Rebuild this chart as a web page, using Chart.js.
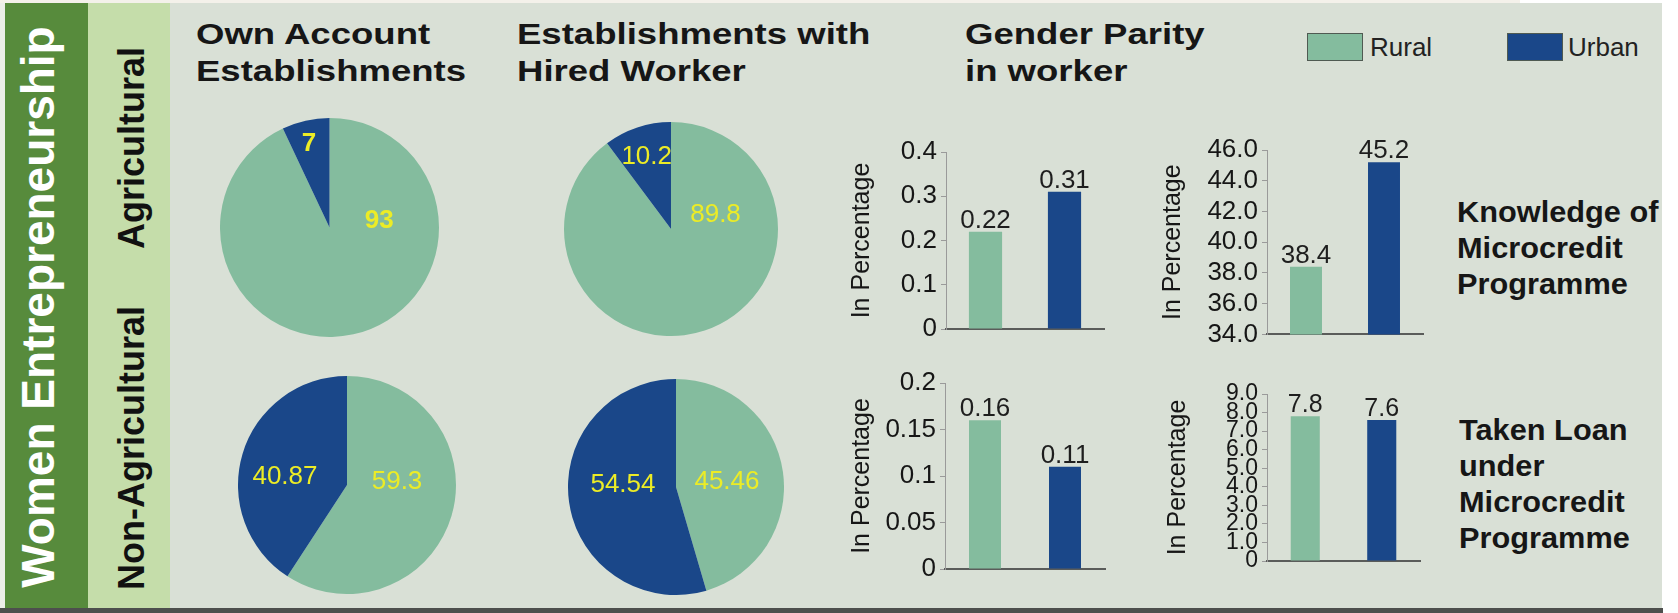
<!DOCTYPE html>
<html>
<head>
<meta charset="utf-8">
<title>Women Entrepreneurship</title>
<script src="https://cdn.jsdelivr.net/npm/chart.js@4.4.1/dist/chart.umd.min.js"></script>
<style>
  html, body { margin: 0; padding: 0; background: #fff; }
  body { width: 1678px; height: 613px; position: relative; overflow: hidden; font-family: 'Liberation Sans', Arial, sans-serif; }
  #panel { position: absolute; left: 0; top: 0; width: 1662px; height: 608px; background: #d9e0d6; overflow: hidden; }
  #bottomLine { position: absolute; left: 0; top: 608px; width: 1663px; height: 5px; background: #4d4f4d; }
  .strip { position: absolute; }
  .holder { position: absolute; }
  .title { position: absolute; font-weight: bold; font-size: 29px; line-height: 37px; color: #161616; white-space: nowrap; transform-origin: 0 0; transform: scaleX(1.26); }
  .side { position: absolute; font-weight: bold; font-size: 29px; line-height: 36px; color: #161616; white-space: nowrap; transform-origin: 0 0; transform: scaleX(1.06); }
  .vert { position: absolute; font-weight: bold; white-space: nowrap; line-height: 1; transform: translate(-50%, -50%) rotate(-90deg); }
  .swatch { position: absolute; width: 54px; height: 26px; border: 1px solid #4f5a52; }
  .legtext { position: absolute; font-size: 26px; line-height: 28px; color: #222; }
</style>
</head>
<body>
<div id="panel">
  <div class="strip" style="left:0;top:0;width:5px;height:608px;background:#eceee9"></div>
  <div class="strip" style="left:0;top:0;width:1520px;height:3px;background:#f4f1ea"></div>
  <div class="strip" style="left:1520px;top:0;width:142px;height:3px;background:#fff"></div>
  <div class="strip" style="left:5px;top:3px;width:83px;height:605px;background:#578b3c"></div>
  <div class="strip" style="left:88px;top:3px;width:82px;height:605px;background:#c5ddaa"></div>

  <div class="vert" style="left:38px;top:307px;font-size:46px;color:#fff">Women Entrepreneurship</div>
  <div class="vert" style="left:132px;top:148px;font-size:36px;color:#111">Agricultural</div>
  <div class="vert" style="left:132px;top:448px;font-size:36px;color:#111">Non-Agricultural</div>

  <div class="title" style="left:196px;top:16px">Own Account<br>Establishments</div>
  <div class="title" style="left:517px;top:16px">Establishments with<br>Hired Worker</div>
  <div class="title" style="left:965px;top:16px">Gender Parity<br>in worker</div>

  <div class="swatch" style="left:1307px;top:33px;background:#84bc9e"></div>
  <div class="legtext" style="left:1370px;top:33px">Rural</div>
  <div class="swatch" style="left:1507px;top:33px;background:#1a4789"></div>
  <div class="legtext" style="left:1568px;top:33px">Urban</div>

  <div class="side" style="left:1457px;top:194px">Knowledge of<br>Microcredit<br>Programme</div>
  <div class="side" style="left:1459px;top:412px">Taken Loan<br>under<br>Microcredit<br>Programme</div>

  <div class="holder"><canvas id="pieOwnAgri"></canvas></div>
  <div class="holder"><canvas id="pieHiredAgri"></canvas></div>
  <div class="holder"><canvas id="pieOwnNonAgri"></canvas></div>
  <div class="holder"><canvas id="pieHiredNonAgri"></canvas></div>
  <div class="holder"><canvas id="barParityAgri"></canvas></div>
  <div class="holder"><canvas id="barKnowledge"></canvas></div>
  <div class="holder"><canvas id="barParityNonAgri"></canvas></div>
  <div class="holder"><canvas id="barLoan"></canvas></div>
</div>
<div id="bottomLine"></div>

<script>
// data
const seriesNames = ['Rural', 'Urban'];

const ownAccountAgri = [93, 7];
const hiredWorkerAgri = [89.8, 10.2];
const ownAccountNonAgri = [59.3, 40.87];
const hiredWorkerNonAgri = [45.46, 54.54];

const genderParityAgri = [0.22, 0.31];
const genderParityNonAgri = [0.16, 0.11];
const knowledgeMicrocredit = [38.4, 45.2];
const loanMicrocredit = [7.8, 7.6];

const ticksParityAgri = ['0', '0.1', '0.2', '0.3', '0.4'];
const ticksParityNonAgri = ['0', '0.05', '0.1', '0.15', '0.2'];
const ticksKnowledge = ['34.0', '36.0', '38.0', '40.0', '42.0', '44.0', '46.0'];
const ticksLoan = ['0', '1.0', '2.0', '3.0', '4.0', '5.0', '6.0', '7.0', '8.0', '9.0'];

const seriesColors = ['#84bc9e', '#1a4789'];
const fontFamily = "'Liberation Sans', Arial, sans-serif";

// value labels inside the pies (spot = offset from centre in radii)
const pieLabels = {
  id: 'pieLabels',
  afterDatasetsDraw(chart, args, opts) {
    const ctx = chart.ctx;
    const meta = chart.getDatasetMeta(0);
    ctx.save();
    ctx.font = opts.font;
    ctx.fillStyle = '#ecec26';
    ctx.textAlign = 'center';
    ctx.textBaseline = 'middle';
    meta.data.forEach((arc, i) => {
      const spot = opts.spots[i];
      ctx.fillText(String(chart.data.datasets[0].data[i]), arc.x + spot[0] * arc.outerRadius, arc.y + spot[1] * arc.outerRadius);
    });
    ctx.restore();
  }
};

// value labels on top of the bars
const barValues = {
  id: 'barValues',
  afterDatasetsDraw(chart, args, opts) {
    const ctx = chart.ctx;
    const meta = chart.getDatasetMeta(0);
    ctx.save();
    ctx.font = opts.size + 'px ' + fontFamily;
    ctx.fillStyle = '#1e1e1e';
    ctx.textAlign = 'center';
    ctx.textBaseline = 'alphabetic';
    meta.data.forEach((bar, i) => {
      ctx.fillText(String(chart.data.datasets[0].data[i]), bar.x, bar.y - 4);
    });
    ctx.restore();
  }
};

function place(canvasId, left, top, width, height) {
  const holder = document.getElementById(canvasId).parentNode;
  holder.style.left = left + 'px';
  holder.style.top = top + 'px';
  holder.style.width = width + 'px';
  holder.style.height = height + 'px';
}

function makePie(canvasId, values, lay) {
  const [cx, cy, r] = lay.circle;
  place(canvasId, cx - r, cy - r, 2 * r, 2 * r);
  new Chart(document.getElementById(canvasId), {
    type: 'pie',
    data: {
      labels: seriesNames,
      datasets: [{ data: values, backgroundColor: seriesColors, borderWidth: 0 }]
    },
    options: {
      responsive: true,
      maintainAspectRatio: false,
      animation: false,
      devicePixelRatio: 1,
      layout: { padding: 0 },
      plugins: {
        legend: { display: false },
        tooltip: { enabled: false },
        pieLabels: { spots: lay.spots, font: lay.font }
      }
    },
    plugins: [pieLabels]
  });
}

function makeBar(canvasId, values, tickLabels, lay) {
  const [bx, by, bw, bh] = lay.box;
  const [al, at, ar, ab] = lay.area;
  place(canvasId, bx, by, bw, bh);
  const min = parseFloat(tickLabels[0]);
  const max = parseFloat(tickLabels[tickLabels.length - 1]);
  new Chart(document.getElementById(canvasId), {
    type: 'bar',
    data: {
      labels: seriesNames,
      datasets: [{
        label: 'In Percentage',
        data: values,
        backgroundColor: seriesColors,
        barPercentage: lay.bar,
        categoryPercentage: 1
      }]
    },
    options: {
      responsive: true,
      maintainAspectRatio: false,
      animation: false,
      devicePixelRatio: 1,
      layout: { padding: { left: 0, top: at - by, right: bx + bw - ar, bottom: 0 } },
      plugins: {
        legend: { display: false },
        tooltip: { enabled: false },
        barValues: { size: lay.valueSize }
      },
      scales: {
        x: {
          grid: { display: false },
          ticks: { display: false },
          border: { color: '#5a5c5a', width: 2 },
          afterFit: s => { s.height = by + bh - ab; }
        },
        y: {
          min: min,
          max: max,
          ticks: {
            stepSize: (max - min) / (tickLabels.length - 1),
            autoSkip: false,
            padding: 4,
            color: '#161616',
            font: { family: fontFamily, size: lay.tickSize },
            callback: (v, i) => tickLabels[i]
          },
          grid: { drawOnChartArea: false, tickLength: 5, color: '#9a9a9a' },
          border: { color: '#9a9a9a', width: 1 },
          title: {
            display: true,
            text: 'In Percentage',
            color: '#161616',
            font: { family: fontFamily, size: 25 },
            padding: { top: lay.titlePad, bottom: 0 }
          },
          afterFit: s => { s.width = al - bx; }
        }
      }
    },
    plugins: [barValues]
  });
}

makePie('pieOwnAgri', ownAccountAgri, {
  circle: [329.5, 227.5, 109.5],
  spots: [[0.454, -0.06], [-0.188, -0.766]],
  font: 'bold 26px ' + fontFamily
});
makePie('pieHiredAgri', hiredWorkerAgri, {
  circle: [671, 229, 107],
  spots: [[0.416, -0.131], [-0.227, -0.676]],
  font: '26px ' + fontFamily
});
makePie('pieOwnNonAgri', ownAccountNonAgri, {
  circle: [347, 485, 109],
  spots: [[0.459, -0.028], [-0.569, -0.073]],
  font: '26px ' + fontFamily
});
makePie('pieHiredNonAgri', hiredWorkerNonAgri, {
  circle: [676, 487, 108],
  spots: [[0.472, -0.046], [-0.491, -0.019]],
  font: '26px ' + fontFamily
});

makeBar('barParityAgri', genderParityAgri, ticksParityAgri, {
  box: [845, 128, 270, 226], area: [946, 152, 1104, 329],
  bar: 0.42, tickSize: 26, valueSize: 26, titlePad: 2
});
makeBar('barKnowledge', knowledgeMicrocredit, ticksKnowledge, {
  box: [1150, 128, 285, 226], area: [1267, 150, 1423, 335],
  bar: 0.41, tickSize: 26, valueSize: 26, titlePad: 8
});
makeBar('barParityNonAgri', genderParityNonAgri, ticksParityNonAgri, {
  box: [845, 360, 270, 235], area: [945, 383, 1105, 569],
  bar: 0.4, tickSize: 26, valueSize: 26, titlePad: 2
});
makeBar('barLoan', loanMicrocredit, ticksLoan, {
  box: [1150, 370, 285, 225], area: [1267, 394, 1420, 561],
  bar: 0.38, tickSize: 23, valueSize: 25, titlePad: 13
});
</script>
</body>
</html>
